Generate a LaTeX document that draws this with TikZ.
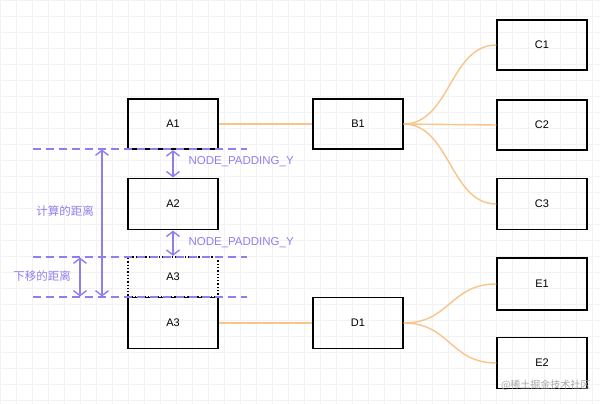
\documentclass[tikz,border=0pt]{standalone}
\usepackage{fontspec}
\setmainfont{Liberation Sans}
\newfontfamily\cjk{Noto Sans CJK SC}
\usetikzlibrary{positioning,arrows.meta}
\definecolor{measure}{HTML}{8F7EEE}
\definecolor{link}{HTML}{F8C48A}
\tikzset{
    box/.style={draw=black, line width=1.3pt, minimum width=90pt, minimum height=50pt, inner sep=0pt, font=\fontsize{11}{13}\selectfont},
    ghostbox/.style={box, dotted, minimum height=40pt},
    edge/.style={draw=link, line width=1.4pt},
    guide/.style={draw=measure, dash pattern=on 8pt off 5pt, line width=1.4pt},
    span/.style={draw=measure, line width=1.4pt, {Straight Barb[length=5pt,width=13pt]}-{Straight Barb[length=5pt,width=13pt]}, shorten <=0.5pt, shorten >=0.5pt},
    tag/.style={text=measure, font=\fontsize{11.5}{13}\selectfont},
}
\begin{document}
\begin{tikzpicture}[x=1pt, y=-1pt]
    \useasboundingbox (0,0) rectangle (600,404);
    \draw[black!5, line width=0.5pt] (0,0) grid[step=16pt] (600,404);
    % nodes
    \node[box] (a1) at (173,124) {A1};
    \node[box, minimum height=51pt] (a2) at (173,204) {A2};
    \node[ghostbox] (a3g) at (173,277) {A3};
    \node[box, minimum height=51pt] (a3) at (173,323) {A3};
    \node[box] (b1) at (358,124) {B1};
    \node[box, minimum height=51pt] (d1) at (358,323) {D1};
    \node[box] (c1) at (542,45) {C1};
    \node[box] (c2) at (542,125) {C2};
    \node[box, minimum height=51pt] (c3) at (542,204) {C3};
    \node[box, minimum height=52pt] (e1) at (542,284) {E1};
    \node[box, minimum height=51pt] (e2) at (542,363) {E2};
    % links
    \path[edge] (a1) -- (b1);
    \path[edge] (a3) -- (d1);
    \path[edge] (b1.east) .. controls (450,124) and (450,45) .. (c1.west);
    \path[edge] (b1.east) -- (c2.west);
    \path[edge] (b1.east) .. controls (450,124) and (450,204) .. (c3.west);
    \path[edge] (d1.east) .. controls (450,323) and (450,284) .. (e1.west);
    \path[edge] (d1.east) .. controls (450,323) and (450,363) .. (e2.west);
    % measures
    \coordinate (g1) at (33,149);
    \coordinate (g2) at (33,257);
    \coordinate (g3) at (33,297);
    \path[guide] (g1) -- ++(214,0);
    \path[guide] (g2) -- ++(214,0);
    \path[guide] (g3) -- ++(214,0);
    \path[span] (a1.south) -- (a2.north);
    \path[span] (a2.south) -- (a3g.north);
    \node[tag, anchor=west] (p1) at (185,162) {NODE\_PADDING\_Y};
    \node[tag, anchor=west] (p2) at (185,243) {NODE\_PADDING\_Y};
    \coordinate (m1) at (102,149);
    \coordinate (m2) at (102,297);
    \coordinate (n1) at (80,257);
    \coordinate (n2) at (80,297);
    \path[span] (m1) -- (m2);
    \path[span] (n1) -- (n2);
    \node[tag, font=\cjk\fontsize{11.5}{13}\selectfont] (t1) at (65,211) {计算的距离};
    \node[tag, font=\cjk\fontsize{11.5}{13}\selectfont] (t2) at (42,276) {下移的距离};
    \node[text=black!35, font=\cjk\fontsize{10}{12}\selectfont, anchor=east] (wm) at (594,385) {@稀土掘金技术社区};
\end{tikzpicture}
\end{document}
